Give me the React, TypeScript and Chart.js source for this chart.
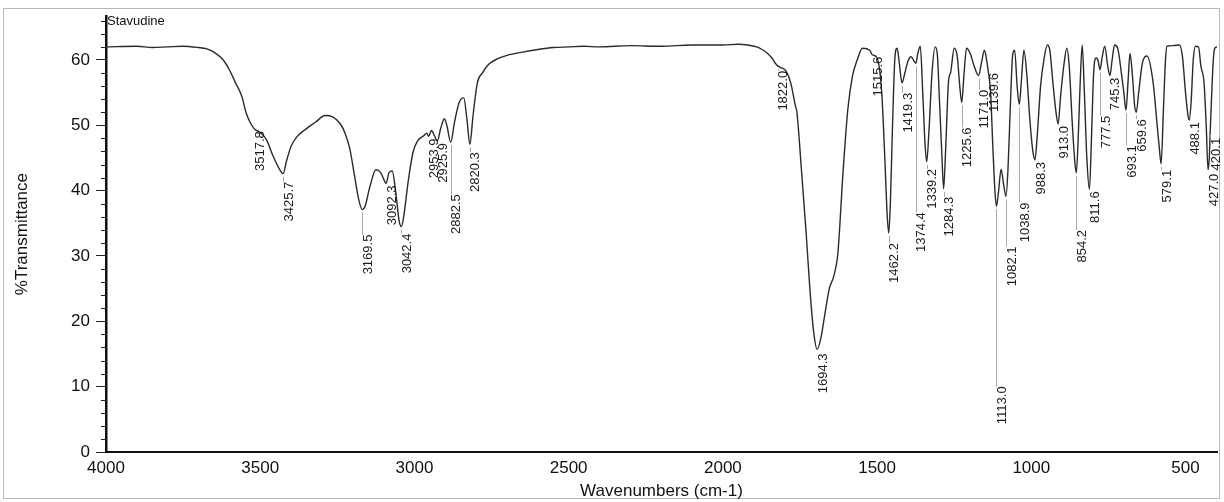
import React, { useEffect, useRef } from "react";
import { Chart, registerables } from "chart.js";

Chart.register(...registerables);

// Spectrum (wavenumber cm-1, %T)
const wavenumbers: number[] = [
  4000, 3900, 3850, 3800, 3750, 3700, 3673, 3650, 3620, 3600, 3580, 3560, 3545, 3530, 3517.8, 3500, 3480, 3460, 3440,
  3425.7, 3415, 3400, 3380, 3350, 3320, 3290, 3265, 3240, 3225, 3210, 3195, 3180, 3169.5, 3160, 3145, 3125, 3110, 3100,
  3092.3, 3082, 3072, 3060, 3050, 3042.4, 3035, 3020, 3005, 2990, 2970, 2960, 2953.9, 2945, 2935, 2925.9, 2915, 2903,
  2895, 2882.5, 2870, 2855, 2840, 2830, 2820.3, 2810, 2796, 2780, 2760, 2730, 2700, 2650, 2600, 2550, 2500, 2450, 2400,
  2300, 2200, 2100, 2050, 2000, 1950, 1920, 1890, 1873, 1855, 1841, 1830, 1822, 1810, 1795, 1780, 1765, 1760, 1745, 1730,
  1718, 1706, 1694.3, 1682, 1668, 1655, 1640, 1627, 1611, 1595, 1580, 1566, 1547, 1524, 1515.6, 1500, 1485, 1475, 1467,
  1462.2, 1457, 1450, 1442, 1435, 1428, 1419.3, 1410, 1400, 1390, 1380, 1374.4, 1368, 1360, 1352, 1345, 1339.2, 1332,
  1322, 1312, 1305, 1298, 1290, 1284.3, 1278, 1268, 1262, 1250, 1240, 1232, 1225.6, 1218, 1210, 1198, 1185, 1171, 1162,
  1152, 1145, 1139.6, 1132, 1125, 1118, 1113, 1106, 1098, 1090, 1082.1, 1075, 1068, 1060, 1054, 1046, 1038.9, 1032, 1024,
  1015, 1005, 995, 988.3, 980, 970, 960, 948, 940, 930, 920, 913, 905, 895, 885, 877, 868, 860, 854.2, 848, 842, 835, 828,
  820, 811.6, 805, 798, 790, 784, 777.5, 770, 762, 752, 745.3, 738, 730, 720, 708, 700, 693.1, 686, 680, 672, 665, 659.6,
  652, 640, 625, 605, 592, 585, 579.1, 572, 565, 560, 540, 520, 510, 500, 492, 488.1, 482, 475, 468, 458, 450, 440, 433,
  427, 423, 420.1, 415, 410, 405, 398,
];

const transmittance: number[] = [
  62.0, 62.1, 61.9, 62.0, 62.1, 61.9, 61.7, 61.2, 60.0, 58.5, 56.5, 54.5, 51.8, 50.2, 49.4, 48.9, 47.8, 45.5, 43.5,
  42.6, 44.5, 46.8, 48.3, 49.5, 50.5, 51.5, 51.3, 50.2, 48.8, 46.5, 42.5, 38.5, 37.1, 37.6, 40.5, 43.2, 42.8, 41.8,
  41.1, 42.8, 43.0, 39.5, 35.5, 34.5, 36.0, 41.5, 45.8, 47.6, 48.4, 48.8, 48.3, 49.2, 48.4, 47.6, 49.5, 51.0,
  50.0, 47.4, 50.5, 53.5, 54.2, 51.0, 47.1, 51.5, 56.5, 58.0, 59.3, 60.2, 60.7, 61.2, 61.6, 61.9, 62.0, 62.1, 62.0,
  62.2, 62.1, 62.3, 62.3, 62.3, 62.4, 62.3, 62.0, 61.6, 61.0, 60.3, 59.5, 59.1, 58.8, 58.3, 56.5, 53.0, 52.0, 43.0, 33.5,
  25.0, 18.5, 15.7, 17.5, 21.5, 25.0, 27.0, 30.5, 42.4, 52.4, 57.5, 59.8, 61.8, 61.5, 60.8, 60.3, 55.0, 45.0, 36.0,
  33.5, 38.0, 50.0, 60.5, 61.8, 59.5, 56.5, 58.0, 59.8, 60.5, 59.8, 59.5, 61.0, 62.1, 55.0, 47.5, 44.4, 49.0,
  58.0, 62.0, 61.0, 54.0, 45.5, 40.3, 46.0, 57.0, 58.0, 61.8, 60.5, 56.0, 53.5, 58.0, 61.8, 61.0, 59.0, 57.6, 59.5,
  61.5, 60.0, 58.3, 55.0, 47.0, 40.0, 37.6, 40.0, 43.3, 41.0, 39.1, 44.0, 53.0, 61.0, 61.5, 56.0, 53.2, 57.0, 61.5,
  58.0, 51.0, 46.0, 44.7, 49.0, 56.0, 59.8, 62.3, 61.5, 56.5, 52.0, 50.2, 54.5, 59.0, 61.8, 59.0, 51.0, 45.0, 42.7, 48.0, 56.0, 62.3, 55.0,
  45.0, 40.2, 48.0, 58.0, 60.3, 60.0, 58.5, 60.5, 62.1, 59.0, 57.6, 60.0, 62.3, 61.8, 58.0, 55.0, 52.3, 57.0, 61.0, 57.5, 53.0, 52.0,
  55.0, 59.5, 60.6, 56.5, 50.0, 46.5, 44.1, 52.0, 60.0, 62.1, 62.2, 62.3, 60.5, 55.0, 51.5, 50.8, 53.5, 60.0, 62.1, 62.0, 59.0, 56.5, 50.0,
  43.2, 45.0, 49.0, 55.0, 60.0, 61.8, 62.0,
];

// Labelled peaks
const peakLabels: string[] = [
  "3517.8", "3425.7", "3169.5", "3092.3", "3042.4", "2953.9", "2925.9", "2882.5", "2820.3", "1822.0", "1694.3",
  "1515.6", "1462.2", "1419.3", "1374.4", "1339.2", "1284.3", "1225.6", "1171.0", "1139.6", "1113.0", "1082.1",
  "1038.9", "988.3", "913.0", "854.2", "811.6", "777.5", "745.3", "693.1", "659.6", "579.1", "488.1", "427.0", "420.1",
];
// vertical gap (px) between each peak and its label
const peakLabelDrop: number[] = [
  0, 8, 25, 2, 7, 2, 0, 52, 8, 5, 4,
  0, 10, 10, 149, 7, 8, 25, 14, 0, 180, 50,
  98, 0, 0, 57, 2, 46, 0, 35, 7, 6, 2, 4, 6,
];

const xTicks: number[] = [4000, 3500, 3000, 2500, 2000, 1500, 1000, 500];
const yTicks: number[] = [0, 10, 20, 30, 40, 50, 60];

const FONT = '"Liberation Sans", Arial, sans-serif';

function valueAt(w: number): number {
  let best = 0;
  let bd = Infinity;
  for (let i = 0; i < wavenumbers.length; i++) {
    const d = Math.abs(wavenumbers[i] - w);
    if (d < bd) {
      bd = d;
      best = i;
    }
  }
  return transmittance[best];
}

const decorPlugin = {
  id: "decor",
  beforeDraw(chart: any) {
    const ctx = chart.ctx;
    ctx.save();
    ctx.strokeStyle = "#b8b8b8";
    ctx.lineWidth = 1;
    ctx.strokeRect(3.5, 8.5, 1216, 490);
    ctx.restore();
  },
  afterDraw(chart: any) {
    const { ctx, chartArea, scales } = chart;
    const x = scales.x;
    const y = scales.y;
    ctx.save();
    // minor y ticks
    ctx.strokeStyle = "#222";
    ctx.lineWidth = 1;
    for (let v = 2; v <= 66; v += 2) {
      if (v % 10 === 0) continue;
      const py = Math.round(y.getPixelForValue(v)) + 0.5;
      ctx.beginPath();
      ctx.moveTo(chartArea.left - 5, py);
      ctx.lineTo(chartArea.left, py);
      ctx.stroke();
    }
    // sample name
    ctx.fillStyle = "#111";
    ctx.font = `13px ${FONT}`;
    ctx.textAlign = "left";
    ctx.textBaseline = "middle";
    ctx.fillText("Stavudine", chartArea.left + 1, 21);
    // peak labels
    ctx.font = `13px ${FONT}`;
    peakLabels.forEach((lab, i) => {
      const w = parseFloat(lab);
      const px = x.getPixelForValue(w);
      const py = y.getPixelForValue(valueAt(w));
      const top = py + Math.max(peakLabelDrop[i], 2);
      if (peakLabelDrop[i] > 4) {
        ctx.strokeStyle = "#a8a8a8";
        ctx.lineWidth = 1;
        ctx.beginPath();
        ctx.moveTo(Math.round(px) + 0.5, py + 3);
        ctx.lineTo(Math.round(px) + 0.5, top);
        ctx.stroke();
      }
      ctx.save();
      ctx.translate(px + 6, top);
      ctx.rotate(-Math.PI / 2);
      ctx.textAlign = "right";
      ctx.textBaseline = "middle";
      ctx.fillStyle = "#1a1a1a";
      ctx.fillText(lab, 0, 0);
      ctx.restore();
    });
    ctx.restore();
  },
};

export default function App() {
  const ref = useRef<HTMLCanvasElement>(null);
  useEffect(() => {
    document.body.style.margin = "0";
    const points = wavenumbers.map((w, i) => ({ x: w, y: transmittance[i] }));
    const chart = new Chart(ref.current as HTMLCanvasElement, {
      type: "line",
      data: {
        datasets: [
          {
            data: points,
            borderColor: "#2a2a2a",
            borderWidth: 1.4,
            pointRadius: 0,
            fill: false,
            cubicInterpolationMode: "monotone",
          },
        ],
      },
      options: {
        animation: false,
        responsive: false,
        layout: { padding: { top: 13, right: 7, left: 0, bottom: 0 } },
        plugins: { legend: { display: false }, tooltip: { enabled: false } },
        scales: {
          x: {
            type: "linear",
            reverse: true,
            min: 398,
            max: 4000,
            afterBuildTicks: (s: any) => {
              s.ticks = xTicks.map((v) => ({ value: v }));
            },
            afterFit: (s: any) => {
              s.height = 50;
            },
            grid: { display: false, drawTicks: false },
            border: { display: true, color: "#111", width: 2 },
            ticks: {
              padding: 6,
              color: "#111",
              font: { family: FONT, size: 17 },
              maxRotation: 0,
              autoSkip: false,
              callback: (v: any) => String(v),
            },
            title: {
              display: true,
              text: "Wavenumbers (cm-1)",
              color: "#111",
              font: { family: FONT, size: 17 },
              padding: { top: 0, bottom: 0 },
            },
          },
          y: {
            type: "linear",
            min: 0,
            max: 66.7,
            afterBuildTicks: (s: any) => {
              s.ticks = yTicks.map((v) => ({ value: v }));
            },
            afterFit: (s: any) => {
              s.width = 106;
            },
            grid: { display: true, drawOnChartArea: false, drawTicks: true, tickLength: 10, color: "#222", lineWidth: 1 },
            border: { display: true, color: "#111", width: 2.5 },
            ticks: {
              padding: 6,
              color: "#111",
              font: { family: FONT, size: 17 },
              callback: (v: any) => String(v),
            },
            title: {
              display: true,
              text: "%Transmittance",
              color: "#111",
              font: { family: FONT, size: 17 },
              padding: { top: 12, bottom: 0 },
            },
          },
        },
      },
      plugins: [decorPlugin],
    } as any);
    return () => chart.destroy();
  }, []);
  return (
    <div style={{ width: 1224, height: 502 }}>
      <canvas ref={ref} width={1224} height={502} style={{ display: "block" }} />
    </div>
  );
}
